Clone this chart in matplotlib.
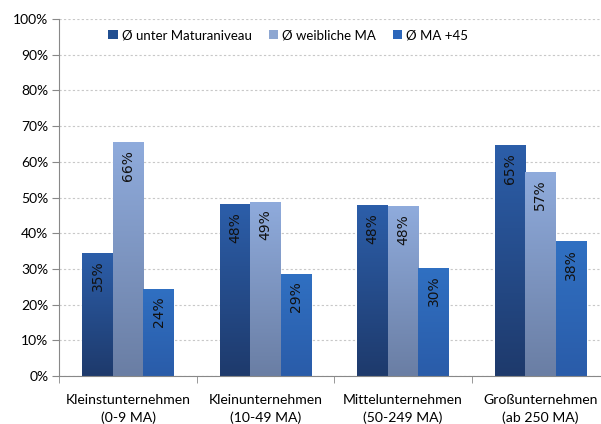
import numpy as np
import matplotlib.pyplot as plt
from matplotlib.colors import LinearSegmentedColormap

# data (percent)
categories = ['Kleinstunternehmen\n(0-9 MA)', 'Kleinunternehmen\n(10-49 MA)',
              'Mittelunternehmen\n(50-249 MA)', 'Großunternehmen\n(ab 250 MA)']
series_names = ['Ø unter Maturaniveau', 'Ø weibliche MA', 'Ø MA +45']
unter_matura = [34.6, 48.1, 47.8, 64.7]
weiblich = [65.5, 48.8, 47.6, 57.2]
ma_45 = [24.4, 28.7, 30.4, 37.8]

# (top colour, bottom colour) of each gradient
grad_cols = [('#2c5ea9', '#1e3a6c'),
             ('#8fabdc', '#6a7ea4'),
             ('#3070c2', '#2a5ca9')]
legend_cols = ['#214f91', '#8ea7d2', '#2c66ba']

plt.rcParams['font.family'] = ['Lato', 'DejaVu Sans']

fig = plt.figure(figsize=(6.01, 4.24), dpi=100)
# the plot area runs a little past the right edge, like the cropped original
ax = fig.add_axes([0.099, 0.113, 0.9145, 0.842])

x = np.arange(len(categories))
w = 0.222
series = [unter_matura, weiblich, ma_45]

for k, vals in enumerate(series):
    bars = ax.bar(x + (k - 1) * w, vals, w, color=legend_cols[k],
                  label=series_names[k], zorder=2, linewidth=0)
    cmap = LinearSegmentedColormap.from_list('g%d' % k, [grad_cols[k][1], grad_cols[k][0]])
    for b, v in zip(bars, vals):
        x0 = b.get_x()
        grad = np.linspace(0, 1, 100).reshape(-1, 1)
        im = ax.imshow(grad, cmap=cmap, origin='lower', aspect='auto',
                       extent=(x0, x0 + b.get_width(), 0, v), zorder=2.5)
        im.set_clip_path(b)
        ax.text(b.get_x() + b.get_width() / 2, v - 2.2, '%d%%' % round(v),
                rotation=90, ha='center', va='top', fontsize=10,
                family='DejaVu Sans', color='#111111', zorder=3)

ax.set_xlim(-0.5, 3.5)
ax.set_ylim(0, 100)
ax.set_yticks(np.arange(0, 101, 10))
ax.set_yticklabels(['%d%%' % t for t in range(0, 101, 10)], fontsize=10)
ax.set_xticks(x)
ax.set_xticklabels(categories, fontsize=10.1, linespacing=1.5)
ax.set_xticks(np.arange(-0.5, 3.6, 1), minor=True)
ax.tick_params(axis='x', which='major', length=0, pad=13)
ax.tick_params(axis='x', which='minor', length=5, color='#888888')
ax.tick_params(axis='y', length=5, color='#888888', pad=3)
ax.grid(axis='y', linestyle=(0, (2, 2)), color='#c8c8c8', linewidth=0.8, zorder=0)
ax.set_axisbelow(True)

for s in ['top', 'right']:
    ax.spines[s].set_visible(False)
ax.spines['left'].set_color('#888888')
ax.spines['bottom'].set_color('#888888')

ax.legend(loc='center', bbox_to_anchor=(0.416, 0.955), ncol=3, frameon=False,
          fontsize=9.5, handlelength=0.7, handleheight=0.7, handletextpad=0.3,
          columnspacing=1.3)

plt.savefig('out.png', dpi=100)
